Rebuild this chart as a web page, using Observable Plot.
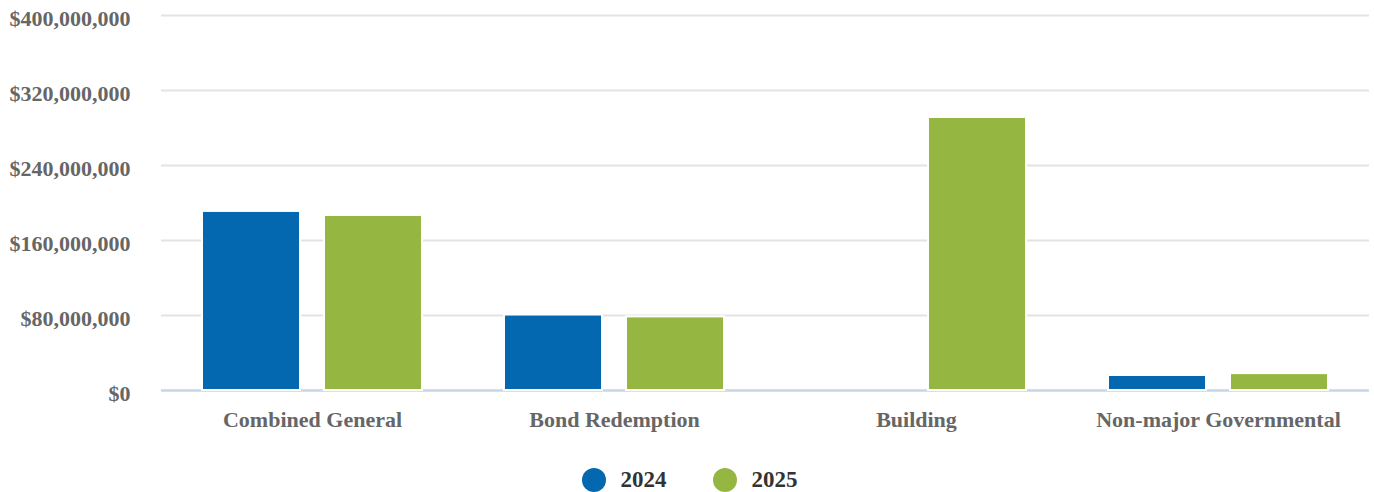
<!DOCTYPE html>
<html>
<head>
<meta charset="utf-8">
<script src="https://cdn.jsdelivr.net/npm/d3@7"></script>
<script src="https://cdn.jsdelivr.net/npm/@observablehq/plot@0.6"></script>
<style>
  html, body { margin: 0; padding: 0; background: #fff; }
  #chart svg { display: block; }
  #legend {
    height: 24px; padding-top: 10px; padding-left: 5px;
    display: flex; justify-content: center; align-items: center;
    font-family: "Liberation Serif", "Times New Roman", serif;
    font-weight: bold; font-size: 23px; line-height: 22px; color: #333;
  }
  .item { display: flex; align-items: center; margin: 0; }
  .dot { width: 24px; height: 24px; border-radius: 50%; margin-right: 15px; }
</style>
</head>
<body>
<div id="chart"></div>
<div id="legend"></div>
<script>
const categories = ["Combined General", "Bond Redemption", "Building", "Non-major Governmental"];
const years = ["2024", "2025"];
const values2024 = [191000000, 80500000, 0, 16000000];
const values2025 = [186700000, 78500000, 291200000, 18000000];
const yTicks = [0, 80000000, 160000000, 240000000, 320000000, 400000000];
const colors = ["#0368b0", "#95b641"];

const data = [];
categories.forEach((c, i) => {
  data.push({category: c, year: years[0], value: values2024[i]});
  data.push({category: c, year: years[1], value: values2025[i]});
});
const drawn = data.filter(d => d.value > 0);

const fmt = v => "$" + d3.format(",")(v);

const chart = Plot.plot({
  width: 1374,
  height: 458,
  marginLeft: 160,
  marginRight: 5,
  marginTop: 15,
  marginBottom: 68,
  style: {
    fontFamily: "'Liberation Serif', 'Times New Roman', serif",
    fontSize: "22px",
    fontWeight: "bold",
    color: "#666",
    background: "#fff"
  },
  fx: {domain: categories, padding: 0, label: null},
  x: {domain: years, paddingInner: 0.213, paddingOuter: 0.344, axis: null},
  y: {domain: [0, 400000000], axis: null},
  color: {domain: years, range: colors},
  marks: [
    Plot.ruleY(yTicks.filter(t => t > 0), {stroke: "#e3e3e3", strokeWidth: 2}),
    Plot.ruleY([0], {stroke: "#c8d5e9", strokeWidth: 2.5}),
    Plot.barY(drawn, {fx: "category", x: "year", y: "value", fill: "year",
      stroke: "white", strokeWidth: 2, insetLeft: -1, insetRight: -1}),
    Plot.axisY({ticks: yTicks, tickFormat: fmt, tickSize: 0, tickPadding: 31, dy: 3,
      label: null, fill: "#666", facetAnchor: "left"}),
    Plot.axisFx({anchor: "bottom", tickSize: 0, tickPadding: 21, label: null, fill: "#666"})
  ]
});
document.getElementById("chart").appendChild(chart);

const legend = document.getElementById("legend");
years.forEach((y, i) => {
  const item = document.createElement("div");
  item.className = "item";
  item.style.marginRight = i === 0 ? "46px" : "0";
  const dot = document.createElement("span");
  dot.className = "dot";
  dot.style.background = colors[i];
  const label = document.createElement("span");
  label.textContent = y;
  item.appendChild(dot);
  item.appendChild(label);
  legend.appendChild(item);
});
</script>
</body>
</html>
